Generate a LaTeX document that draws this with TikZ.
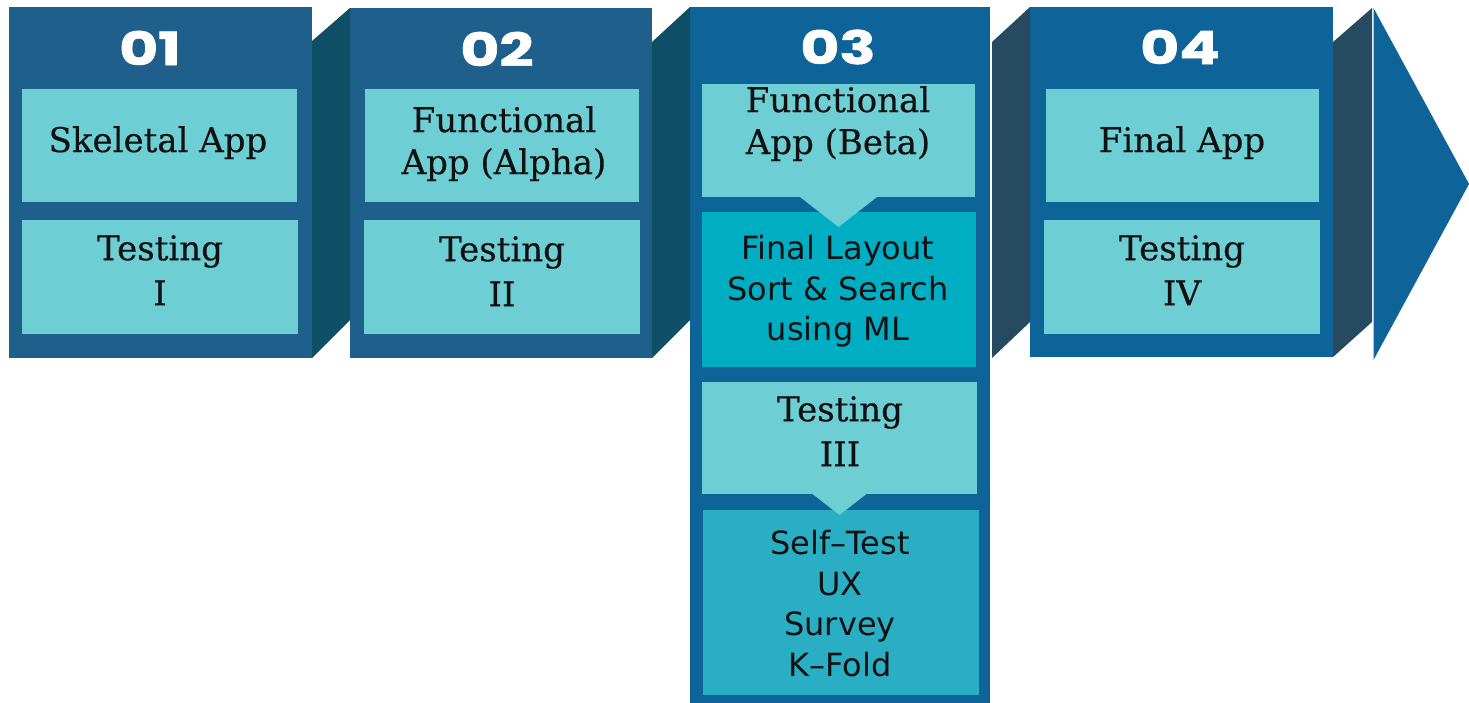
\documentclass[tikz,border=0pt]{standalone}
\usepackage{fontspec}
\usetikzlibrary{calc}
\newfontfamily\slabfont{DejaVu Serif}[FakeBold=0.4]
\newfontfamily\humanfont{DejaVu Sans}
\newfontfamily\headfont{Poppins}[BoldFeatures={FakeBold=1.2}]
\definecolor{panelA}{HTML}{1F5F8B}
\definecolor{panelB}{HTML}{0E6399}
\definecolor{faceA}{HTML}{0F4F65}
\definecolor{faceB}{HTML}{264A60}
\definecolor{boxLight}{HTML}{6DCED3}
\definecolor{boxCyan}{HTML}{00AEC4}
\definecolor{boxTeal}{HTML}{2AAEC3}
\definecolor{ink}{HTML}{111111}
\newcommand{\stagenum}[1]{\scalebox{1.3}[1]{#1}}
\tikzset{
  plate/.style={rectangle, inner sep=0pt, outer sep=0pt, draw=none},
  stage/.style={plate, fill=#1},
  cell/.style={plate, fill=#1},
  serifline/.style={inner sep=0pt, anchor=north, align=center, text=ink,
    font=\slabfont\fontsize{34pt}{45pt}\selectfont},
  seriftight/.style={serifline, font=\slabfont\fontsize{34pt}{42pt}\selectfont},
  sansline/.style={inner sep=0pt, anchor=north, align=center, text=ink,
    font=\humanfont\fontsize{32pt}{40.5pt}\selectfont},
  headnum/.style={inner sep=0pt, text=white, font=\headfont\bfseries\fontsize{46pt}{46pt}\selectfont},
}
\begin{document}
\begin{tikzpicture}[x=1pt, y=-1pt]
\useasboundingbox (0,0) rectangle (1469,703);

% stage panels
\node[stage=panelA, minimum width=303pt, minimum height=351pt] (p1) at (160.5,182.5) {};
\node[stage=panelA, minimum width=302pt, minimum height=350pt] (p2) at (501,183) {};
\node[stage=panelB, minimum width=300pt, minimum height=703pt] (p3) at (840,358.5) {};
\node[stage=panelB, minimum width=303pt, minimum height=350pt] (p4) at (1181.5,182) {};

% slanted side faces between panels
\fill[faceA] ($(p1.north east)+(0,34)$) -- (p2.north west) -- ($(p2.south west)+(0,-38)$) -- (p1.south east) -- cycle;
\fill[faceA] ($(p2.north east)+(0,34)$) -- (p3.north west) -- ($(p3.north west)+(0,313)$) -- (p2.south east) -- cycle;
\fill[faceB] ($(p3.north east)+(2,35)$) -- (p4.north west) -- ($(p4.north west)+(0,315)$) -- ($(p3.north east)+(2,351)$) -- cycle;

% closing arrow
\coordinate (arT) at (1373.5,8);
\coordinate (arB) at (1373.5,360);
\coordinate (arTip) at (1469,184);
\fill[faceB] ($(p4.north east)+(0,35)$) -- ($(arT)+(-1.5,0)$) -- ($(arT)+(-1.5,314)$) -- (p4.south east) -- cycle;
\fill[panelB] (arT) -- (arTip) -- (arB) -- cycle;

% headings
\node[headnum] (h1) at (150,48) {\stagenum{01}};
\node[headnum] (h2) at (497,49) {\stagenum{02}};
\node[headnum] (h3) at (838,47) {\stagenum{03}};
\node[headnum] (h4) at (1180,47) {\stagenum{04}};

% content cells
\node[cell=boxLight, minimum width=275pt, minimum height=113pt] (b11) at (159.5,145.5) {};
\node[cell=boxLight, minimum width=276pt, minimum height=114pt] (b12) at (160,277) {};
\node[cell=boxLight, minimum width=274pt, minimum height=113pt] (b21) at (502,145.5) {};
\node[cell=boxLight, minimum width=276pt, minimum height=114pt] (b22) at (502,277) {};
\node[cell=boxLight, minimum width=273pt, minimum height=113pt] (bA) at (838.5,140.5) {};
\node[cell=boxCyan,  minimum width=274pt, minimum height=155pt] (bB) at (839,289.5) {};
\node[cell=boxLight, minimum width=275pt, minimum height=112pt] (bC) at (839.5,438) {};
\node[cell=boxTeal,  minimum width=276pt, minimum height=185pt] (bD) at (841,602.5) {};
\node[cell=boxLight, minimum width=273pt, minimum height=113pt] (b41) at (1182.5,145.5) {};
\node[cell=boxLight, minimum width=276pt, minimum height=114pt] (b42) at (1182,277) {};

% pointers from one cell into the next
\fill[boxLight] ($(bA.south)+(-38.5,0)$) -- ($(bA.south)+(38.5,0)$) -- ($(bA.south)+(0,30)$) -- cycle;
\fill[boxLight] ($(bC.south)+(-27,0)$) -- ($(bC.south)+(27,0)$) -- ($(bC.south)+(0,21)$) -- cycle;

% cell texts
\node[serifline] (t11) at (158,126) {Skeletal App};
\node[serifline] (t12) at (160,235) {Testing\\I};
\node[seriftight] (t21) at (504,106) {Functional\\App (Alpha)};
\node[serifline] (t22) at (502,236) {Testing\\II};
\node[seriftight] (tA) at (838,86) {Functional\\App (Beta)};
\node[sansline] (tB) at (838,235) {Final Layout\\Sort \& Search\\using ML};
\node[serifline] (tC) at (840,396) {Testing\\III};
\node[sansline] (tD) at (840,530) {Self–Test\\UX\\Survey\\K–Fold};
\node[serifline] (t41) at (1182,126) {Final App};
\node[serifline] (t42) at (1182,235) {Testing\\IV};
\end{tikzpicture}
\end{document}
